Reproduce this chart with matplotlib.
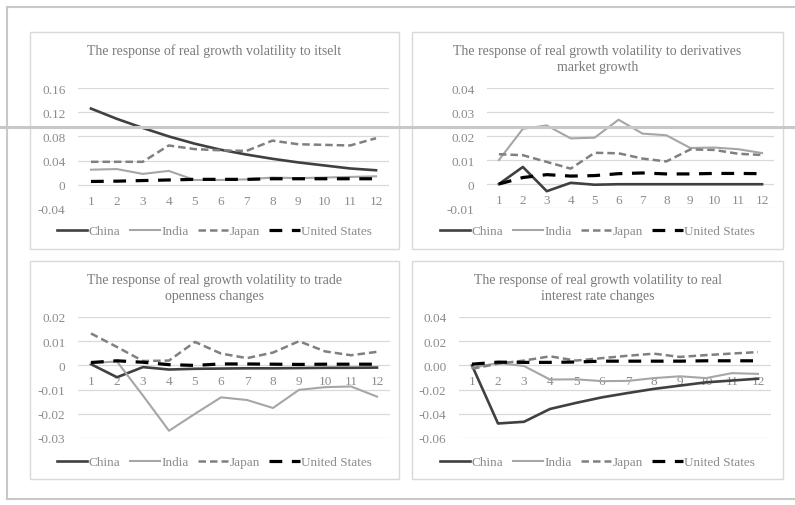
import matplotlib
matplotlib.use('Agg')
import matplotlib.pyplot as plt
from matplotlib.patches import Rectangle
from matplotlib.lines import Line2D

# periods and countries
periods = list(range(1, 13))
countries = ['China', 'India', 'Japan', 'United States']

# panel 1 : response to itself
itself_china = [0.126, 0.109, 0.094, 0.080, 0.068, 0.058, 0.050, 0.043, 0.037, 0.032, 0.027, 0.024]
itself_india = [0.025, 0.026, 0.018, 0.023, 0.008, 0.008, 0.009, 0.012, 0.011, 0.012, 0.013, 0.014]
itself_japan = [0.038, 0.038, 0.038, 0.065, 0.059, 0.057, 0.056, 0.073, 0.067, 0.066, 0.065, 0.077]
itself_us = [0.0055, 0.006, 0.007, 0.008, 0.009, 0.009, 0.009, 0.010, 0.010, 0.010, 0.010, 0.010]

# panel 2 : derivatives market growth
deriv_china = [0.0, 0.0071, -0.003, 0.0005, -0.0003, -0.0001, -0.0001, -0.0001, -0.0001, -0.0001, -0.0001, -0.0001]
deriv_india = [0.010, 0.023, 0.0244, 0.019, 0.0193, 0.0268, 0.021, 0.0203, 0.015, 0.0152, 0.0145, 0.0129]
deriv_japan = [0.0124, 0.012, 0.0092, 0.0064, 0.013, 0.0128, 0.0106, 0.0094, 0.0144, 0.0142, 0.0126, 0.0121]
deriv_us = [0.0, 0.0027, 0.0039, 0.0033, 0.0035, 0.0043, 0.0046, 0.0042, 0.0042, 0.0044, 0.0044, 0.0043]

# panel 3 : trade openness changes
trade_china = [0.0005, -0.0049, -0.0007, -0.0017, -0.0014, -0.0013, -0.0012, -0.0012, -0.0011, -0.0010, -0.0010, -0.0009]
trade_india = [0.001, 0.0016, -0.0125, -0.027, -0.020, -0.0132, -0.0143, -0.0176, -0.0101, -0.009, -0.0087, -0.0129]
trade_japan = [0.0132, 0.0076, 0.0018, 0.002, 0.0097, 0.0049, 0.003, 0.0053, 0.010, 0.0058, 0.0042, 0.0056]
trade_us = [0.0012, 0.0019, 0.0013, 0.0003, 0.0, 0.0006, 0.0006, 0.0005, 0.0004, 0.0005, 0.0005, 0.0005]

# panel 4 : real interest rate changes
rate_china = [0.0, -0.048, -0.0466, -0.036, -0.031, -0.0264, -0.0228, -0.0194, -0.0167, -0.014, -0.0125, -0.011]
rate_india = [-0.002, 0.002, -0.0005, -0.0117, -0.0115, -0.013, -0.0128, -0.0105, -0.009, -0.0105, -0.0064, -0.007]
rate_japan = [-0.0028, 0.0014, 0.004, 0.0075, 0.004, 0.006, 0.008, 0.0097, 0.007, 0.0085, 0.0098, 0.011]
rate_us = [0.001, 0.0027, 0.0025, 0.0025, 0.0028, 0.0035, 0.0035, 0.0035, 0.0035, 0.0038, 0.0038, 0.0038]

plt.rcParams['font.family'] = ['Liberation Serif', 'DejaVu Serif']

W, H = 795, 506
fig = plt.figure(figsize=(W / 100, H / 100), dpi=100)

tick_col = '#8c8c8c'
title_col = '#7a7a7a'
grid_col = '#d9d9d9'

styles = {
    'China': dict(color='#404040', lw=1.9, ls='-'),
    'India': dict(color='#a6a6a6', lw=1.5, ls='-'),
    'Japan': dict(color='#808080', lw=1.8, ls=(0, (3, 1.6))),
    'United States': dict(color='#000000', lw=2.3, ls=(0, (4, 3))),
}


def px_axes(x0, x1, ytop, ybot):
    return fig.add_axes([x0 / W, 1 - ybot / H, (x1 - x0) / W, (ybot - ytop) / H])


def draw_panel(box, axbox, title, ylim, yticks, ylabels, series, legend_y):
    # panel frame
    bx0, by0, bx1, by1 = box
    fig.patches.append(Rectangle((bx0 / W, 1 - by1 / H), (bx1 - bx0) / W, (by1 - by0) / H,
                                 transform=fig.transFigure, fill=False,
                                 edgecolor='#d9d9d9', lw=1.0))
    ax = px_axes(*axbox)
    for name, vals in zip(countries, series):
        ax.plot(periods, vals, label=name, **styles[name])
    ax.set_xlim(0.5, 12.5)
    ax.set_ylim(*ylim)
    ax.set_yticks(yticks)
    ax.set_yticklabels(ylabels)
    ax.set_xticks(periods)
    ax.grid(axis='y', color=grid_col, lw=0.9)
    ax.set_axisbelow(True)
    for s in ['top', 'right', 'left']:
        ax.spines[s].set_visible(False)
    ax.spines['bottom'].set_position(('data', 0))
    ax.spines['bottom'].set_visible(False)
    ax.tick_params(axis='both', length=0, labelsize=9.5, colors=tick_col)
    ax.tick_params(axis='x', pad=7)
    ax.tick_params(axis='y', pad=9)
    cx = (bx0 + bx1) / 2
    fig.text(cx / W, 1 - (by0 + 11) / H, title, ha='center', va='top',
             fontsize=10, color=title_col, linespacing=1.35)
    fig.legend(handles=[Line2D([], [], **styles[n]) for n in countries], labels=countries,
               loc='center', bbox_to_anchor=(cx / W, 1 - legend_y / H), ncol=4,
               frameon=False, fontsize=9.5, labelcolor=tick_col, handlelength=2.3,
               handletextpad=0.1, columnspacing=0.7)
    return ax


draw_panel((30, 33, 399, 250), (78, 389, 89, 210),
           'The response of real growth volatility to itselt',
           (-0.04, 0.16), [-0.04, 0, 0.04, 0.08, 0.12, 0.16],
           ['-0.04', '0', '0.04', '0.08', '0.12', '0.16'],
           [itself_china, itself_india, itself_japan, itself_us], 232)

draw_panel((412, 33, 783, 250), (487, 774, 89, 209),
           'The response of real growth volatility to derivatives\nmarket growth',
           (-0.01, 0.04), [-0.01, 0, 0.01, 0.02, 0.03, 0.04],
           ['-0.01', '0', '0.01', '0.02', '0.03', '0.04'],
           [deriv_china, deriv_india, deriv_japan, deriv_us], 232)

draw_panel((30, 262, 399, 480), (78, 390, 318, 439),
           'The response of real growth volatility to trade\nopenness changes',
           (-0.03, 0.02), [-0.03, -0.02, -0.01, 0, 0.01, 0.02],
           ['-0.03', '-0.02', '-0.01', '0', '0.01', '0.02'],
           [trade_china, trade_india, trade_japan, trade_us], 463)

draw_panel((412, 262, 783, 480), (459, 771, 318, 439),
           'The response of real growth volatility to real\ninterest rate changes',
           (-0.06, 0.04), [-0.06, -0.04, -0.02, 0.0, 0.02, 0.04],
           ['-0.06', '-0.04', '-0.02', '0.00', '0.02', '0.04'],
           [rate_china, rate_india, rate_japan, rate_us], 463)

# outer frame and the stray horizontal rule of the scan
frame_col = '#c8c8c8'
fig.add_artist(Line2D([7 / W, 1], [1 - 8 / H, 1 - 8 / H], color=frame_col, lw=1.5))
fig.add_artist(Line2D([7 / W, 7 / W], [1 - 8 / H, 1 - 500 / H], color=frame_col, lw=1.5))
fig.add_artist(Line2D([7 / W, 1], [1 - 500 / H, 1 - 500 / H], color=frame_col, lw=1.5))
fig.add_artist(Line2D([0, 1], [1 - 128 / H, 1 - 128 / H], color=frame_col, lw=2.2))

fig.savefig('out.png', dpi=100)
